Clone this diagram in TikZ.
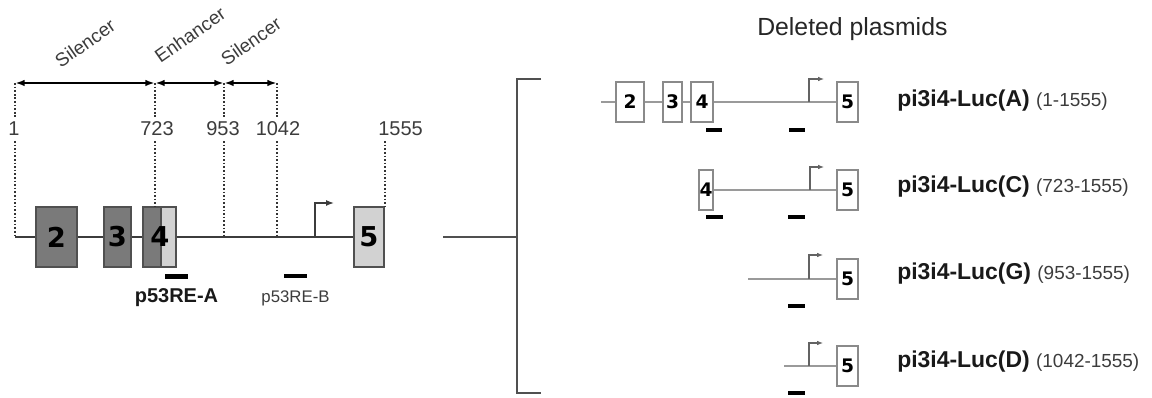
\documentclass[tikz,border=0pt]{standalone}
\usepackage{fontspec}
\setmainfont{Liberation Sans}
\newfontfamily\exfont{DejaVu Sans}
\usetikzlibrary{arrows.meta}
\definecolor{dk}{HTML}{3C3C3C}
\definecolor{exdark}{HTML}{7A7A7A}
\definecolor{exlight}{HTML}{D2D2D2}
\definecolor{exborder}{HTML}{505050}
\definecolor{rline}{HTML}{9A9A9A}
\definecolor{rborder}{HTML}{8A8A8A}
\newcommand\rngtext[1]{{\mdseries\fontsize{14.2}{17}\selectfont\color{dk}#1}}
\begin{document}
\begin{tikzpicture}[x=0.75pt,y=-0.75pt,
  num/.style={font=\fontsize{15}{18}\selectfont, text=dk, inner sep=3.5pt},
  region/.style={font=\fontsize{14.2}{16}\selectfont, text=dk, rotate=35, inner sep=0pt},
  dots/.style={line width=1.5pt, black!80, dash pattern=on 1.3pt off 1.4pt},
  spanarr/.style={line width=1.4pt, black, {Latex[length=7pt,width=5pt]}-{Latex[length=7pt,width=5pt]}, shorten <=0.3pt, shorten >=0.3pt},
  bb/.style={line width=1.1pt, dk},
  lex/.style={draw=exborder, line width=0.9pt, inner sep=0pt, minimum height=45pt},
  lexnum/.style={font=\exfont\bfseries\fontsize{20.5}{22}\selectfont, inner sep=0pt},
  prom/.style={line width=1pt, dk, -{Latex[length=6pt,width=4.5pt]}},
  rb/.style={line width=0.9pt, rline},
  rex/.style={draw=rborder, fill=white, line width=0.8pt, inner sep=0pt, minimum height=30pt, font=\exfont\bfseries\fontsize{14}{15}\selectfont},
  rprom/.style={line width=0.8pt, dk!80, -{Latex[length=4.5pt,width=3.5pt]}},
  bar/.style={fill=black, inner sep=0pt, minimum width=12.5pt},
  lab/.style={anchor=base west, inner sep=0pt, font=\bfseries\fontsize{17.2}{20}\selectfont, text=black!90}
]
\useasboundingbox (0,0) rectangle (1152,398);

% ---------------- left: full construct ----------------
\coordinate (t1) at (15,83);
\coordinate (t723) at (155,83);
\coordinate (t953) at (224,83);
\coordinate (t1042) at (277,83);
\coordinate (L0) at (15,237);

\draw[spanarr] (t1) -- (t723);
\draw[spanarr] (t723) -- (t953);
\draw[spanarr] (t953) -- (t1042);

\node[region] (sil1) at (85,43) {Silencer};
\node[region] (enh) at (190,35) {Enhancer};
\node[region] (sil2) at (251,41) {Silencer};

\node[num, anchor=base] (n1) at (14,136) {1};
\node[num, anchor=base] (n723) at (157,136) {723};
\node[num, anchor=base] (n953) at (223,136) {953};
\node[num, anchor=base] (n1042) at (278,136) {1042};
\node[num, anchor=base west, inner xsep=0pt] (n1555) at (378,136) {1555};

% exons
\node[lex, fill=exdark, minimum width=30.75pt] (e2) at (56.5,237) {};
\node[lex, fill=exdark, minimum width=20.25pt] (e3) at (117.5,237) {};
\node[lex, fill=exdark, minimum width=13.5pt] (e4a) at (152,237) {};
\node[lex, fill=exlight, minimum width=11.25pt] (e4b) at (168.5,237) {};
\node[lex, fill=exlight, minimum width=22.5pt] (e5) at (369,237) {};
\node[lexnum] (e2t) at (e2) {2};
\node[lexnum] (e3t) at (e3) {3};
\node[lexnum] (e4t) at (160,237) {4};
\node[lexnum] (e5t) at (e5) {5};

% dotted guides
\draw[dots] (t1) -- (t1 |- n1.north);
\draw[dots] (t1 |- n1.south) -- (L0);
\draw[dots] (t723) -- (t723 |- n723.north);
\draw[dots] (t723 |- n723.south) -- (t723 |- e4a.north);
\draw[dots] (t953) -- (t953 |- n953.north);
\draw[dots] (t953 |- n953.south) -- (t953 |- L0);
\draw[dots] (t1042) -- (t1042 |- n1042.north);
\draw[dots] (t1042 |- n1042.south) -- (t1042 |- L0);
\draw[dots] (e5.north east |- n1555.south) -- (e5.north east);

% backbone
\draw[bb] (L0) -- (e2.west);
\draw[bb] (e2) -- (e3);
\draw[bb] (e3) -- (e4a);
\draw[bb] (e4b) -- (e5);

% promoter
\coordinate (pL) at (315,237);
\coordinate (pLe) at (334,203);
\draw[prom] (pL) |- (pLe);

% p53 response elements
\node[bar, minimum width=17.5pt, minimum height=3.75pt] (reA) at (176.5,276.5) {};
\node[bar, minimum width=17.5pt, minimum height=3pt] (reB) at (295.5,276.5) {};
\node[anchor=base, inner sep=0pt, font=\bfseries\fontsize{15}{18}\selectfont, text=black!90] (reAt) at (176.5,303) {p53RE-A};
\node[anchor=base, inner sep=0pt, font=\fontsize{12.6}{15}\selectfont, text=dk] (reBt) at (295.5,303) {p53RE-B};

% ---------------- bracket ----------------
\coordinate (bIn) at (443,237);
\coordinate (bMid) at (517,237);
\coordinate (bTop) at (517,79);
\coordinate (bTopR) at (541,79);
\coordinate (bBot) at (517,393);
\coordinate (bBotR) at (541,393);
\draw[bb, dk!90] (bIn) -- (bMid);
\draw[bb, dk!90] (bTopR) -- (bTop) -- (bBot) -- (bBotR);

\node[anchor=base west, inner sep=0pt, font=\fontsize{18.6}{22}\selectfont, text=black!85] (title) at (757,36) {Deleted plasmids};

% ---------------- row A ----------------
\coordinate (sA) at (601,102);
\node[rex, minimum width=21pt] (a2) at (630,102) {2};
\node[rex, minimum width=14.25pt] (a3) at (672.5,102) {3};
\node[rex, minimum width=16.5pt] (a4) at (702,102) {4};
\node[rex, minimum width=15.75pt] (a5) at (847.5,102) {5};
\draw[rb] (sA) -- (a2) (a2) -- (a3) (a3) -- (a4) (a4) -- (a5);
\coordinate (pA) at (809,102);
\coordinate (pAe) at (824,79);
\draw[rprom] (pA) |- (pAe);
\node[bar, minimum width=12pt, minimum height=3.5pt] (aA) at (714,130) {};
\node[bar, minimum width=12pt, minimum height=2.4pt] (aB) at (797,130) {};
\node[lab] (labA) at (897,107) {pi3i4-Luc(A) \rngtext{(1-1555)}};

% ---------------- row C ----------------
\node[rex, minimum width=10.5pt] (c4) at (706,190) {4};
\node[rex, minimum width=15.75pt] (c5) at (847.5,190) {5};
\draw[rb] (c4) -- (c5);
\coordinate (pC) at (810,190);
\coordinate (pCe) at (824,167);
\draw[rprom] (pC) |- (pCe);
\node[bar, minimum width=12.5pt, minimum height=3.5pt] (cA) at (714.5,217) {};
\node[bar, minimum width=12.5pt, minimum height=2.4pt] (cB) at (796.5,217) {};
\node[lab] (labC) at (897,193) {pi3i4-Luc(C) \rngtext{(723-1555)}};

% ---------------- row G ----------------
\coordinate (sG) at (748,279);
\node[rex, minimum width=15.75pt] (g5) at (847.5,279) {5};
\draw[rb] (sG) -- (g5);
\coordinate (pG) at (809,279);
\coordinate (pGe) at (823,255);
\draw[rprom] (pG) |- (pGe);
\node[bar, minimum width=12.5pt, minimum height=2.4pt] (gB) at (796.5,306) {};
\node[lab] (labG) at (897,280) {pi3i4-Luc(G) \rngtext{(953-1555)}};

% ---------------- row D ----------------
\coordinate (sD) at (784,366);
\node[rex, minimum width=15.75pt] (d5) at (847.5,366) {5};
\draw[rb] (sD) -- (d5);
\coordinate (pD) at (809,366);
\coordinate (pDe) at (823,343);
\draw[rprom] (pD) |- (pDe);
\node[bar, minimum width=12.5pt, minimum height=2.4pt] (dB) at (796.5,393) {};
\node[lab] (labD) at (897,368) {pi3i4-Luc(D) \rngtext{(1042-1555)}};
\end{tikzpicture}
\end{document}
